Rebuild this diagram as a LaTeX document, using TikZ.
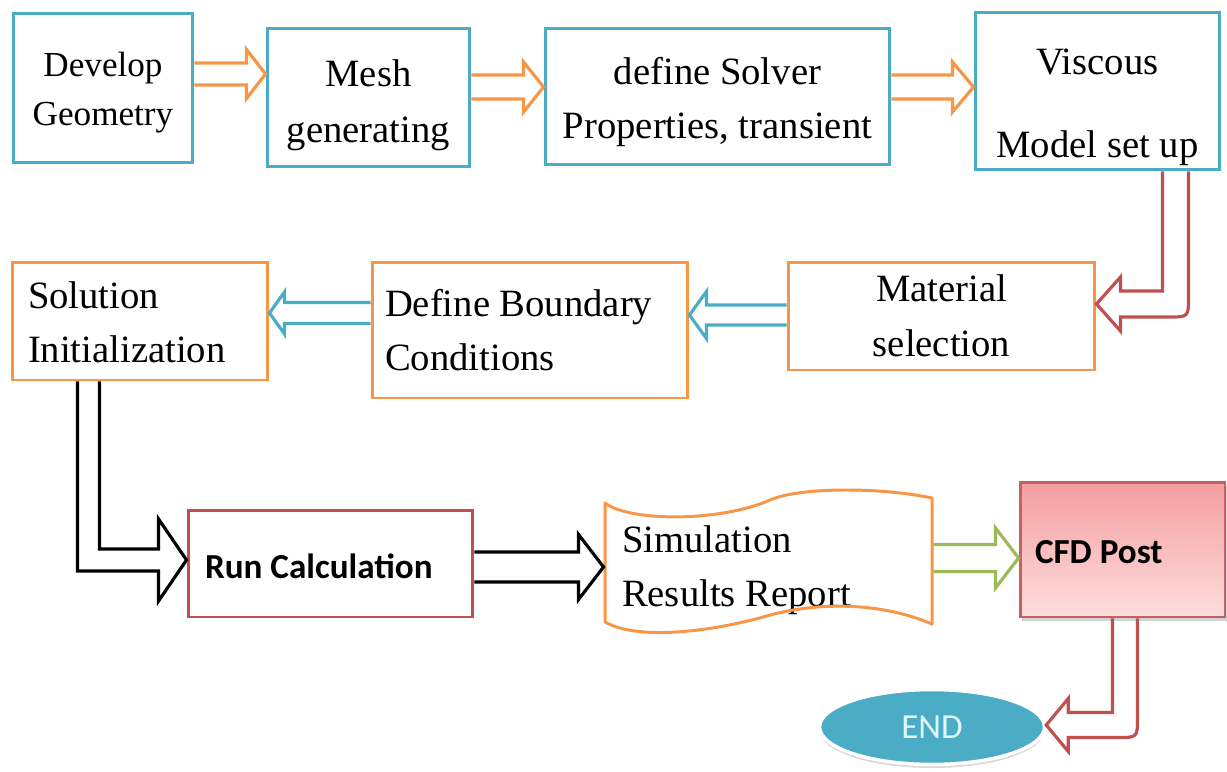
\documentclass[tikz,border=0pt]{standalone}
\usepackage{fontspec}
\setmainfont{Liberation Serif}
\newfontfamily\calibri{Carlito}
\usetikzlibrary{calc,shapes.geometric,shadows}

\definecolor{tealc}{HTML}{4BACC6}
\definecolor{orangec}{HTML}{F79646}
\definecolor{redc}{HTML}{C0504D}
\definecolor{greenc}{HTML}{9BBB59}
\definecolor{endtext}{RGB}{225,246,252}

% pushes the first line of a node down a little
\newcommand{\topstrut}[1]{\rule{0pt}{#1}}

\tikzset{
  box/.style={line width=1.7pt, inner sep=0pt, align=center,
    font=\fontsize{22}{31}\selectfont},
  bbox/.style={box, draw=tealc},
  obox/.style={box, draw=orangec},
  rbox/.style={box, draw=redc},
  blockarrow/.style={line width=1.8pt, line join=miter},
}

% straight hollow arrow: colour, from, tip, shaft half width, head half width, head length
\newcommand{\hollowarrow}[6]{%
  \draw[blockarrow,draw=#1] let \p1=#2, \p2=#3, \n1={sign(\x2-\x1)} in
    (\x1,{\y2+#4}) -- ({\x2-(\n1)*#6},{\y2+#4}) -- ({\x2-(\n1)*#6},{\y2+#5})
    -- (\x2,\y2) -- ({\x2-(\n1)*#6},{\y2-#5}) -- ({\x2-(\n1)*#6},{\y2-#4})
    -- (\x1,{\y2-#4});
}
% down then sideways, same args plus the outer corner radius
\newcommand{\bentarrow}[7]{%
  \draw[blockarrow,draw=#1] let \p1=#2, \p2=#3, \n1={sign(\x2-\x1)} in
    ({\x1+(\n1)*#4},\y1) -- ({\x1+(\n1)*#4},{\y2+#4})
    -- ({\x2-(\n1)*#6},{\y2+#4}) -- ({\x2-(\n1)*#6},{\y2+#5}) -- (\x2,\y2)
    -- ({\x2-(\n1)*#6},{\y2-#5}) -- ({\x2-(\n1)*#6},{\y2-#4})
    -- ({\x1-(\n1)*#4+(\n1)*#7},{\y2-#4})
    .. controls ({\x1-(\n1)*#4},{\y2-#4}) .. ({\x1-(\n1)*#4},{\y2-#4+#7})
    -- ({\x1-(\n1)*#4},\y1);
}

\begin{document}
\begin{tikzpicture}[x=0.02cm,y=-0.02cm]
  \useasboundingbox (0,0) rectangle (1227,771);

  % top row
  \node[bbox, font=\fontsize{20}{28}\selectfont, minimum width=3.6cm, minimum height=3cm] (geom) at (103,88) {\topstrut{19pt}Develop\\Geometry};
  \node[bbox, minimum width=4.06cm, minimum height=2.78cm] (mesh) at (368.5,97.5) {\topstrut{24pt}Mesh\\[1pt]generating};
  \node[bbox, minimum width=6.9cm, minimum height=2.74cm] (solver) at (717.5,96.5) {\topstrut{22pt}define Solver\\Properties, transient};
  \node[bbox, minimum width=4.9cm, minimum height=3.16cm] (visc) at (1097.5,91) {\topstrut{33pt}Viscous\\[16pt]Model set up};

  % middle row
  \node[obox, minimum width=5.12cm, minimum height=2.36cm, text width=4.48cm, align=flush left] (sol) at (140,321) {\topstrut{17pt}Solution\\Initialization};
  \node[obox, minimum width=6.32cm, minimum height=2.72cm, text width=5.8cm, align=flush left] (bnd) at (530,330) {Define Boundary\\Conditions};
  \node[obox, minimum width=6.14cm, minimum height=2.16cm] (mat) at (941.5,316) {Material\\selection};

  % bottom row
  \node[rbox, font=\calibri\bfseries\fontsize{20}{24}\selectfont, minimum width=5.7cm, minimum height=2.14cm, text width=5.02cm, align=flush left] (run) at (330.5,563.5) {\topstrut{17pt}Run Calculation};
  \node[box, minimum width=6.54cm, minimum height=3cm, text width=5.86cm, align=flush left] (sim) at (768.5,565) {\topstrut{21pt}Simulation\\Results Report};
  \draw[orangec, line width=1.7pt, line join=round]
    (605,503) .. controls (630,522) and (720,522) .. (770,500)
    .. controls (800,487) and (880,487) .. (932,498) -- (932,624)
    .. controls (880,602) and (820,602) .. (770,615)
    .. controls (720,630) and (640,642) .. (605,622) -- cycle;
  \node[rbox, draw=redc!90, top color={rgb,255:red,243;green,158;blue,160}, bottom color={rgb,255:red,255;green,221;blue,221},
    drop shadow={shadow xshift=1pt, shadow yshift=-2pt, opacity=0.35},
    font=\calibri\bfseries\fontsize{20}{24}\selectfont, minimum width=4.1cm, minimum height=2.7cm, text width=3.5cm, align=flush left] (cfd) at (1122.5,549.5) {\topstrut{16pt}CFD Post};
  \node[ellipse, fill=tealc, draw=white, line width=2pt, drop shadow={shadow xshift=0pt, shadow yshift=-2pt, opacity=0.3},
    minimum width=4.5cm, minimum height=1.5cm, inner sep=0pt, text=endtext, font=\calibri\fontsize{20}{22}\selectfont] (finish) at (932,727) {END};

  % connectors
  \hollowarrow{orangec}{(geom.east)}{([yshift=0.47cm]mesh.west)}{0.22cm}{0.49cm}{0.38cm}
  \hollowarrow{orangec}{(mesh.east)}{([yshift=0.19cm]solver.west)}{0.24cm}{0.5cm}{0.4cm}
  \hollowarrow{orangec}{(solver.east)}{([yshift=0.08cm]visc.west)}{0.24cm}{0.5cm}{0.42cm}
  \bentarrow{redc}{([xshift=1.56cm]visc.south)}{([yshift=0.24cm]mat.east)}{0.26cm}{0.54cm}{0.48cm}{0.4cm}
  \hollowarrow{tealc}{(mat.west)}{([yshift=0.3cm]bnd.east)}{0.2cm}{0.47cm}{0.34cm}
  \hollowarrow{tealc}{(bnd.west)}{([yshift=0.16cm]sol.east)}{0.21cm}{0.42cm}{0.3cm}
  \bentarrow{black}{([xshift=-1.03cm]sol.south)}{([yshift=0.07cm]run.west)}{0.22cm}{0.82cm}{0.56cm}{0cm}
  \hollowarrow{black}{(run.east)}{([yshift=-0.04cm]sim.west)}{0.3cm}{0.65cm}{0.5cm}
  \hollowarrow{greenc}{(sim.east)}{([yshift=-0.17cm]cfd.west)}{0.27cm}{0.6cm}{0.46cm}
  \bentarrow{redc}{([xshift=0.05cm]cfd.south)}{([yshift=0.04cm]finish.east)}{0.25cm}{0.53cm}{0.44cm}{0.4cm}
\end{tikzpicture}
\end{document}
